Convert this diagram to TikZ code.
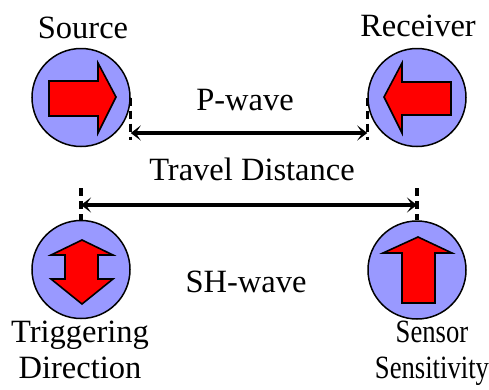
\documentclass[tikz,border=0pt]{standalone}
\usepackage{fontspec}
\setmainfont{Liberation Serif}
\usetikzlibrary{arrows.meta,calc}
\definecolor{discblue}{HTML}{9999FF}
\definecolor{arrowred}{HTML}{FF0000}
\tikzset{
  disc/.style={circle,draw=black,line width=1.5pt,fill=discblue,minimum size=98pt,inner sep=0pt},
  redarrow/.style={draw=black,line width=1.6pt,fill=arrowred,line join=miter},
  txt/.style={font=\fontsize{32.5}{35.5}\selectfont,anchor=base,inner sep=0pt},
  marker/.style={line width=3.4pt,dash pattern=on 8pt off 5pt},
  dist/.style={line width=3.4pt,{Stealth[length=10pt,width=15pt,inset=5pt]}-{Stealth[length=10pt,width=15pt,inset=5pt]}}
}
\begin{document}
\begin{tikzpicture}[x=1pt,y=-1pt]
\useasboundingbox (0,0) rectangle (489,389);
% discs
\node[disc] (src) at (81,97.5) {};
\node[disc] (rcv) at (417,97.5) {};
\node[disc] (trg) at (81,269.5) {};
\node[disc] (sen) at (417,270) {};
% red arrows
\draw[redarrow] (49,81) -- (98,81) -- (98,63) -- (116,97) -- (98,133) -- (98,116) -- (49,116) -- cycle;
\draw[redarrow] (451,82) -- (402,82) -- (402,63) -- (384,97) -- (402,133) -- (402,115) -- (451,115) -- cycle;
\draw[redarrow] (82,240) -- (113,255) -- (98,255) -- (98,279) -- (113,279) -- (82,304) -- (51,279) -- (65,279) -- (65,255) -- (51,255) -- cycle;
\draw[redarrow] (418,237) -- (452,253) -- (435,253) -- (435,303) -- (402,303) -- (402,253) -- (383,253) -- cycle;
% markers
\coordinate (pl) at (src.east |- 0,140);
\coordinate (pr) at (rcv.west |- 0,140);
\coordinate (pla) at (src.east |- 0,133);
\coordinate (pra) at (rcv.west |- 0,133);
\draw[marker] (src.east) -- (pl);
\draw[marker] (rcv.west) -- (pr);
\draw[dist] (pla) -- (pra);
\coordinate (sl) at (trg.north |- 0,188);
\coordinate (sr) at (sen.north |- 0,188);
\coordinate (sla) at (trg.north |- 0,205);
\coordinate (sra) at (sen.north |- 0,205);
\draw[marker] (sl) -- (trg.north);
\draw[marker] (sr) -- (sen.north);
\draw[dist] (sla) -- (sra);
% labels
\node[txt] (tsrc) at (83,38) {Source};
\node[txt] (trcv) at (418,36) {Receiver};
\node[txt] (tp) at (245,110) {P-wave};
\node[txt] (ttd) at (252,180) {Travel Distance};
\node[txt] (tsh) at (246,292) {SH-wave};
\node[txt,align=center] (ttrg) at (80,378) {Triggering\\Direction};
\node[txt,align=center] (tsen) at (432,378) {\scalebox{0.82}[1]{Sensor}\\\scalebox{0.82}[1]{Sensitivity}};
\end{tikzpicture}
\end{document}
